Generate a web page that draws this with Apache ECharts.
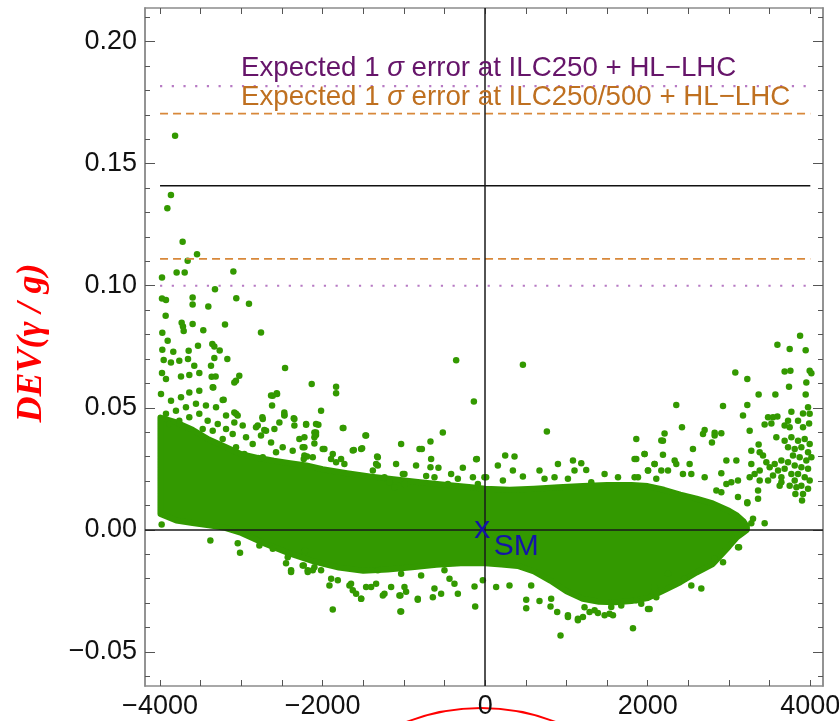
<!DOCTYPE html>
<html><head><meta charset="utf-8">
<script src="https://cdn.jsdelivr.net/npm/echarts@6/dist/echarts.min.js"></script>
<style>html,body{margin:0;padding:0;background:#fff}#c{width:839px;height:721px}</style>
</head><body><div id="c"></div><script>
// ---------- axes ----------
const xRange = [-4185, 4156];
const yRange = [-0.064, 0.2138];
const xTickValues = [-4000,-3500,-3000,-2500,-2000,-1500,-1000,-500,0,500,1000,1500,2000,2500,3000,3500,4000];
const xLabelValues = [-4000,-2000,0,2000,4000];
const yMajorValues = [-0.05,0,0.05,0.10,0.15,0.20];
const yMinorValues = [-0.06,-0.05,-0.04,-0.03,-0.02,-0.01,0,0.01,0.02,0.03,0.04,0.05,0.06,0.07,0.08,0.09,0.10,0.11,0.12,0.13,0.14,0.15,0.16,0.17,0.18,0.19,0.20,0.21];

// ---------- reference lines ----------
const refLineX = [-4000, 4000];
const refSolid = [0.141];
const refDashed = [0.1705, 0.111];
const refDotted = [0.1818, 0.100];
const annotPurple = [-3004, 0.1892];
const annotOrange = [-3004, 0.1773];
const smPoint = [0, 0];

// ---------- dense core of the scan (envelope) ----------
const bandUpperX = [-3995,-3800,-3600,-3400,-3200,-3000,-2800,-2600,-2400,-2200,-2000,-1700,-1400,-1100,-800,-500,-200,0,300,600,900,1200,1500,1800,2000,2200,2400,2600,2800,3000,3100,3180,3220];
const bandUpperY = [0.046,0.044,0.041,0.037,0.034,0.031,0.0295,0.0283,0.0273,0.0264,0.0248,0.0232,0.0218,0.0206,0.0195,0.0185,0.0175,0.0168,0.0164,0.0168,0.0174,0.0179,0.0184,0.0184,0.0179,0.0164,0.0144,0.0128,0.0108,0.0078,0.0058,0.0034,0.0013];
const bandLowerX = [3220,3180,3100,3000,2800,2600,2400,2200,2000,1800,1600,1400,1200,1000,800,600,400,200,0,-300,-600,-900,-1200,-1500,-1800,-2100,-2400,-2700,-3000,-3200,-3400,-3600,-3800,-3995];
const bandLowerY = [0.0,-0.001,-0.003,-0.0068,-0.014,-0.0175,-0.0215,-0.0248,-0.028,-0.0292,-0.0297,-0.0295,-0.0283,-0.0252,-0.0208,-0.017,-0.0148,-0.0142,-0.0137,-0.0137,-0.0143,-0.0153,-0.0163,-0.0168,-0.0155,-0.013,-0.0098,-0.0058,-0.0013,0.0008,0.0018,0.0028,0.0038,0.0065];

// ---------- individual points ----------
const leftOutliers = [[-3815,0.1615],[-3866,0.1372],[-3910,0.1317],[-3722,0.118],[-3545,0.1129],[-3660,0.1102],[-3976,0.1034],[-3796,0.1054],[-3697,0.1054],[-3098,0.1058],[-3324,0.0986],[-3976,0.0948],[-3927,0.0942],[-3599,0.0952],[-3599,0.0923],[-3406,0.0915],[-3062,0.0949],[-2906,0.0926],[-3931,0.0877],[-3734,0.0848],[-3718,0.0833],[-3709,0.0815],[-3599,0.0843],[-3201,0.0841],[-3468,0.0818],[-2758,0.0808],[-3972,0.0807],[-3906,0.0775],[-3972,0.0738],[-3837,0.073],[-3648,0.0734],[-3533,0.0754],[-3357,0.0761],[-3332,0.0751],[-3266,0.0735],[-3955,0.0696],[-3866,0.0686],[-3763,0.0693],[-3656,0.070],[-3332,0.0704],[-3172,0.070],[-3373,0.0672],[-3579,0.0672],[-2462,0.0663],[-3976,0.0642],[-3927,0.0618],[-3742,0.0628],[-3640,0.0634],[-3517,0.0642],[-3365,0.0627],[-3316,0.0628],[-3066,0.0611],[-3025,0.0631],[-2134,0.0597],[-3345,0.0583],[-2634,0.055],[-2560,0.0556],[-2622,0.0509],[-3217,0.0533],[-2470,0.047],[-2741,0.0461],[-2355,0.0457]];
const leftFringe = [[-3988,0.0556],[-3865,0.0529],[-3742,0.0543],[-3640,0.0563],[-3517,0.057],[-3352,0.0584],[-3229,0.0532],[-3086,0.0604],[-2613,0.0549],[-2564,0.0559],[-3927,0.0475],[-3804,0.0488],[-3681,0.0502],[-3558,0.0516],[-3435,0.0509],[-3311,0.0502],[-3886,0.0434],[-3763,0.0447],[-3640,0.0461],[-3517,0.0475],[-3414,0.0447],[-3290,0.0434],[-3188,0.0468],[-3065,0.0475],[-3086,0.044],[-2983,0.0427],[-3188,0.0413],[-2736,0.0454],[-2819,0.042],[-2696,0.0406],[-2593,0.0413],[-2470,0.0468],[-2532,0.044],[-2347,0.0427],[-2203,0.0434],[-2286,0.0372],[-2101,0.0379],[-2942,0.0379],[-2860,0.0352],[-2758,0.0386],[-2634,0.0358],[-2491,0.0338],[-2368,0.0324],[-2245,0.0338],[-2224,0.0304],[-2121,0.0297],[-3229,0.0372],[-3106,0.0393],[-3352,0.0406],[-3475,0.0413],[-3065,0.0338],[-2963,0.0311],[-2736,0.0297],[-2573,0.0318],[-1834,0.0586],[-1834,0.0559],[-2019,0.0488],[-1752,0.0417],[-1465,0.0386],[-1034,0.0352],[-808,0.0331],[-1526,0.0331],[-1629,0.0325],[-1978,0.0331],[-1875,0.0311],[-2101,0.0399],[-2081,0.0434],[-2347,0.0454],[-2471,0.0481],[-2224,0.0379],[-1321,0.0297],[-1321,0.0263],[-1096,0.027],[-993,0.0229],[-2798,0.0427],[-2717,0.0409],[-3086,0.0481],[-3045,0.0468],[-3980,0.0022],[-3381,-0.0044],[-3044,-0.0055],[-3016,-0.0094],[-2778,-0.0064],[-2613,-0.0078],[-2408,-0.0098],[-2450,-0.0137],[-2388,-0.0173],[-2245,-0.0146],[-2183,-0.0173],[-2121,-0.0166],[-2429,-0.0112],[-2388,-0.0166],[-2224,-0.0091],[-2101,-0.0153],[-2019,-0.0166],[-1916,-0.0228],[-1895,-0.0201],[-1813,-0.0207],[-1875,-0.0327],[-1670,-0.0228],[-1629,-0.0248],[-1526,-0.0283],[-1465,-0.0234],[-1342,-0.0221],[-1239,-0.0262],[-1055,-0.0269],[-1034,-0.0335],[-973,-0.0254],[-829,-0.0283]];
const midFringe = [[-357,0.0695],[-139,0.0526],[-2203,0.043],[-2052,0.043],[-2081,0.0399],[-2081,0.0388],[-1744,0.0417],[-1473,0.0386],[-521,0.0399],[-673,0.0362],[-779,0.0331],[-1514,0.0334],[-1616,0.0327],[-1998,0.0331],[-2101,0.0354],[-111,0.0289],[-665,0.029],[-673,0.0256],[-575,0.0254],[-850,0.0263],[-1013,0.0229],[-1329,0.03],[-1342,0.027],[-1382,0.0243],[-1773,0.029],[-1834,0.0277],[-1896,0.029],[-1732,0.027],[-2224,0.0338],[-2232,0.029],[-2191,0.030],[-275,0.0254],[-419,0.0229],[-336,0.0209],[-151,0.0215],[12,0.0215],[-90,0.0188],[-459,0.0188],[-624,0.0215],[-726,0.022],[-993,0.0188],[-1116,0.0174],[-1239,0.0215],[-1178,0.0195],[-2216,-0.0085],[-2183,-0.0166],[-2232,-0.0146],[-1650,-0.0221],[-1588,-0.0262],[-1526,-0.0283],[-1403,-0.0234],[-1259,-0.0269],[-1157,-0.0234],[-1043,-0.0335],[-1043,-0.0269],[-993,-0.0234],[-829,-0.0287],[-644,-0.0276],[-624,-0.0241],[-542,-0.0262],[-439,-0.0201],[-378,-0.0221],[-336,-0.0262],[-131,-0.0232],[-123,-0.0314],[-29,-0.0207],[-501,-0.0166],[-788,-0.0187],[-1034,-0.018],[-1321,-0.0166],[464,0.0676],[759,0.0403],[1859,0.0372],[2167,0.0366],[1961,0.0311],[1859,0.029],[2084,0.027],[-102,0.029],[246,0.0304],[361,0.030],[156,0.0263],[341,0.0243],[464,0.0218],[668,0.0243],[895,0.027],[1080,0.0284],[1182,0.0273],[1243,0.0245],[1099,0.0243],[1469,0.0229],[1634,0.0215],[1880,0.0215],[2003,0.0243],[2105,0.0209],[-9,0.0215],[218,0.0202],[730,0.0209],[853,0.0215],[1018,0.0209],[1305,0.0195],[135,-0.0234],[299,-0.0228],[566,-0.0228],[505,-0.0287],[505,-0.0321],[668,-0.0292],[812,-0.0283],[804,-0.0314],[927,-0.0433],[886,-0.0337],[1018,-0.035],[1141,-0.0364],[1203,-0.0357],[1284,-0.0337],[1387,-0.0341],[1530,-0.0344],[1551,-0.0316],[1674,-0.031],[1818,-0.0403],[1859,-0.0289],[2003,-0.0324],[2105,-0.0276],[1222,-0.0317],[1346,-0.033],[1469,-0.035],[1572,-0.035],[1920,-0.0303],[2023,-0.0324],[2084,-0.0234],[2167,-0.0248],[2249,-0.018],[2330,-0.0221],[2454,-0.0201],[2536,-0.0228],[2659,-0.0241],[2823,-0.0119],[2926,-0.0133],[3111,-0.0071],[1141,-0.0371],[1018,-0.0357]];
const rightCluster = [[3874,0.0795],[3595,0.0758],[3746,0.0741],[3943,0.0736],[3684,0.0649],[3755,0.0652],[3992,0.0652],[4013,0.0641],[3077,0.0645],[3225,0.0618],[3738,0.0586],[3951,0.0604],[3943,0.0554],[3364,0.0554],[3570,0.0554],[2351,0.0511],[2926,0.0507],[3225,0.0511],[3972,0.0502],[3910,0.0477],[3992,0.0475],[3767,0.0484],[3172,0.0468],[3480,0.0461],[3541,0.0461],[3595,0.0464],[3438,0.0431],[3521,0.0436],[3849,0.0447],[3985,0.0436],[3910,0.042],[3684,0.0427],[3746,0.042],[3726,0.0447],[2421,0.042],[2680,0.0393],[2823,0.0386],[2790,0.0358],[3254,0.0406],[3582,0.0379],[3364,0.0349],[2207,0.0395],[2187,0.0365],[2556,0.0331],[3684,0.0365],[3767,0.0379],[3849,0.0365],[3931,0.0372],[3992,0.0352],[3726,0.0338],[3808,0.0331],[3890,0.0338],[3972,0.0318],[3787,0.0304],[3869,0.0297],[3951,0.0284],[4013,0.0297],[3644,0.0284],[3726,0.0277],[3808,0.0263],[3890,0.0256],[3972,0.025],[3684,0.025],[3767,0.0229],[3849,0.0229],[3931,0.0215],[3992,0.0202],[3808,0.0202],[3890,0.0181],[3972,0.0168],[3829,0.0174],[3910,0.0147],[3816,0.0147],[3898,0.012],[3644,0.0195],[3746,0.0181],[3274,0.0324],[3377,0.0318],[3418,0.0304],[3274,0.027],[3315,0.0229],[3377,0.0243],[3459,0.0277],[3500,0.0256],[3562,0.027],[3603,0.0243],[3541,0.0222],[3480,0.0202],[3377,0.0202],[3623,0.0181],[3644,0.0215],[3357,0.0161],[3357,0.0127],[3225,0.0113],[3254,0.0215],[1961,0.0311],[2084,0.027],[2187,0.0307],[2331,0.0284],[2351,0.027],[2515,0.027],[2433,0.0229],[2249,0.0243],[2003,0.0243],[2536,0.0229],[2700,0.0215],[2905,0.0232],[2967,0.0284],[3090,0.0284],[3028,0.0195],[3110,0.0202],[2967,0.0188],[2844,0.0161],[2905,0.0154],[3110,0.0134],[3225,0.0109],[3295,0.0045],[3438,0.0027],[3274,0.0027],[3123,-0.0071],[1838,0.029],[2167,0.0243],[1838,0.0215],[2700,0.0409],[2823,0.0398],[2905,0.0396]];

// ---------- styling ----------
const GREEN = '#339900';
const SANS = '"Liberation Sans", Arial, Helvetica, sans-serif';
const AXIS_COLOR = '#8c8c8c';
const minus = v => String(v).replace('-', '\u2212');

const chart = echarts.init(document.getElementById('c'), null, {renderer: 'canvas'});

function mkX(pos, showLabel) {
  return {
    type: 'value', position: pos, min: xRange[0], max: xRange[1],
    axisLine: {show: true, onZero: false, lineStyle: {color: AXIS_COLOR, width: 1.5}},
    axisTick: {show: true, inside: true, length: 6, customValues: xTickValues, lineStyle: {color: '#555', width: 1}},
    axisLabel: {show: showLabel, customValues: xLabelValues, formatter: v => minus(v), color: '#111', fontSize: 27, fontFamily: SANS, margin: 7},
    splitLine: {show: false}
  };
}
function mkY(pos, vals, len, showLabel) {
  return {
    type: 'value', position: pos, min: yRange[0], max: yRange[1],
    axisLine: {show: true, onZero: false, lineStyle: {color: AXIS_COLOR, width: 1.5}},
    axisTick: {show: true, inside: true, length: len, customValues: vals, lineStyle: {color: '#555', width: 1}},
    axisLabel: {show: showLabel, customValues: yMajorValues, formatter: v => minus(v.toFixed(2)), color: '#111', fontSize: 27, fontFamily: SANS, margin: 8},
    splitLine: {show: false}
  };
}

const refSeries = [];
function addRef(vals, color, type, width) {
  vals.forEach(v => refSeries.push({
    type: 'line', data: refLineX.map(x => [x, v]), symbol: 'none', silent: true, z: 3,
    lineStyle: {color: color, width: width, type: type}
  }));
}
addRef(refSolid, '#111111', 'solid', 1.5);
addRef(refDashed, '#d8883a', [8, 5], 1.8);
addRef(refDotted, '#b77ac4', [2.2, 9.5], 2.2);

const option = {
  backgroundColor: '#ffffff',
  animation: false,
  grid: {left: 145, right: 16, top: 8, bottom: 35, containLabel: false, outerBoundsMode: 'none'},
  xAxis: [mkX('bottom', true), mkX('top', false)],
  yAxis: [mkY('left', yMajorValues, 10, true), mkY('left', yMinorValues, 5, false), mkY('right', yMajorValues, 10, false), mkY('right', yMinorValues, 5, false)],
  series: [
    {
      type: 'custom', xAxisIndex: 0, yAxisIndex: 0, data: [0], clip: true, z: 2, silent: true,
      renderItem: function (params, api) {
        const pts = [];
        for (let i = 0; i < bandUpperX.length; i++) pts.push(api.coord([bandUpperX[i], bandUpperY[i]]));
        for (let i = 0; i < bandLowerX.length; i++) pts.push(api.coord([bandLowerX[i], bandLowerY[i]]));
        return {type: 'polygon', shape: {points: pts}, style: {fill: GREEN, stroke: GREEN, lineWidth: 6, lineJoin: 'round', opacity: 1}};
      }
    },
    {type: 'scatter', data: leftOutliers.concat(leftFringe, midFringe, rightCluster), symbol: 'circle', symbolSize: 6.5,
     itemStyle: {color: GREEN, opacity: 1}, z: 2, silent: true},
    ...refSeries,
    {
      type: 'line', data: [], silent: true, z: 5,
      markLine: {symbol: 'none', silent: true, label: {show: false},
        lineStyle: {color: '#1a1a1a', width: 1.5, type: 'solid', opacity: 1},
        data: [{xAxis: 0}, {yAxis: 0}]}
    },
    {
      type: 'scatter', symbolSize: 0, silent: true, z: 6, itemStyle: {opacity: 1},
      data: [
        {value: annotPurple, label: {show: true, position: 'right', distance: 0,
          formatter: 'Expected 1 {s|σ} error at ILC250 + HL\u2212LHC',
          color: '#66156a', fontSize: 27.7, fontFamily: SANS,
          rich: {s: {fontStyle: 'italic', color: '#66156a', fontSize: 27.7, fontFamily: SANS}}}},
        {value: annotOrange, label: {show: true, position: 'right', distance: 0,
          formatter: 'Expected 1 {s|σ} error at ILC250/500 + HL\u2212LHC',
          color: '#bf7020', fontSize: 27.7, fontFamily: SANS,
          rich: {s: {fontStyle: 'italic', color: '#bf7020', fontSize: 27.7, fontFamily: SANS}}}},
        {value: smPoint, label: {show: true, position: 'inside', formatter: 'x', offset: [-3, -1],
          color: '#1414a8', fontSize: 32, fontFamily: SANS}},
        {value: smPoint, label: {show: true, position: 'inside', formatter: 'SM', offset: [31, 17],
          color: '#1414a8', fontSize: 30, fontFamily: SANS}}
      ]
    }
  ],
  graphic: [
    {type: 'text', x: 32, y: 343, rotation: Math.PI / 2, silent: true,
     style: {text: 'DEV(γ / g)', fill: '#ff0000', font: 'italic bold 36px "Liberation Serif", "Times New Roman", serif',
       textAlign: 'center', textVerticalAlign: 'middle'}},
    {type: 'arc', silent: true, shape: {cx: 481, cy: 914, r: 206, startAngle: -2.3, endAngle: -0.84},
     style: {stroke: '#ff0000', lineWidth: 2, fill: null}}
  ]
};
chart.setOption(option);
</script></body></html>
